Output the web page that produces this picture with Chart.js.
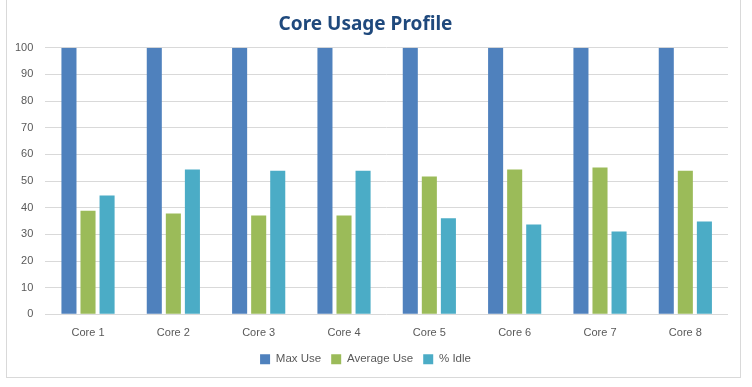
<!DOCTYPE html>
<html>
<head>
<meta charset="utf-8">
<script src="https://cdn.jsdelivr.net/npm/chart.js@4.4.1/dist/chart.umd.min.js"></script>
<style>
  html, body { margin: 0; padding: 0; background: #fff; }
  #frame { position: absolute; left: 6px; top: -1px; width: 733px; height: 377px; border: 1px solid #d9d9d9; }
  #chart { position: absolute; left: 1px; top: 0; display: block; }
</style>
</head>
<body>
<div id="frame"></div>
<canvas id="chart" width="740" height="378"></canvas>
<script>
// Data
const cores = ['Core 1', 'Core 2', 'Core 3', 'Core 4', 'Core 5', 'Core 6', 'Core 7', 'Core 8'];
const maxUse = [100, 100, 100, 100, 100, 100, 100, 100];
const avgUse = [38.9, 37.8, 37.1, 37.1, 51.7, 54.3, 55.1, 53.9];
const idle = [44.6, 54.3, 53.9, 53.9, 36.0, 33.7, 31.1, 34.8];

const labelColor = '#595959';
const tickFont = { family: 'Liberation Sans, Arial, sans-serif', size: 11 };

const ctx = document.getElementById('chart').getContext('2d');
const chart = new Chart(ctx, {
  type: 'bar',
  data: {
    labels: cores,
    datasets: [
      { label: 'Max Use', data: maxUse, backgroundColor: '#4f81bd' },
      { label: 'Average Use', data: avgUse, backgroundColor: '#9bbb59' },
      { label: '% Idle', data: idle, backgroundColor: '#4bacc6' }
    ]
  },
  options: {
    responsive: false,
    animation: false,
    layout: { padding: { left: 2, right: 13, top: 4, bottom: 3 } },
    datasets: { bar: { categoryPercentage: 0.67, barPercentage: 0.79 } },
    plugins: {
      title: {
        display: true,
        text: 'Core Usage Profile',
        color: '#1f497d',
        font: { family: 'Noto Sans, sans-serif', size: 19, weight: 'bold' },
        padding: { top: 9, bottom: 12 }
      },
      legend: {
        position: 'bottom',
        labels: {
          color: labelColor,
          font: { family: 'Liberation Sans, Arial, sans-serif', size: 11.5 },
          boxWidth: 10,
          boxHeight: 10,
          padding: 10
        }
      },
      tooltip: { enabled: false }
    },
    scales: {
      x: {
        grid: { display: false },
        border: { display: false },
        ticks: { color: labelColor, font: tickFont, padding: 4 }
      },
      y: {
        min: 0,
        max: 100,
        ticks: { stepSize: 10, color: labelColor, font: tickFont, padding: 12 },
        grid: { color: '#d9d9d9', drawTicks: false },
        border: { display: false }
      }
    }
  }
});
</script>
</body>
</html>
